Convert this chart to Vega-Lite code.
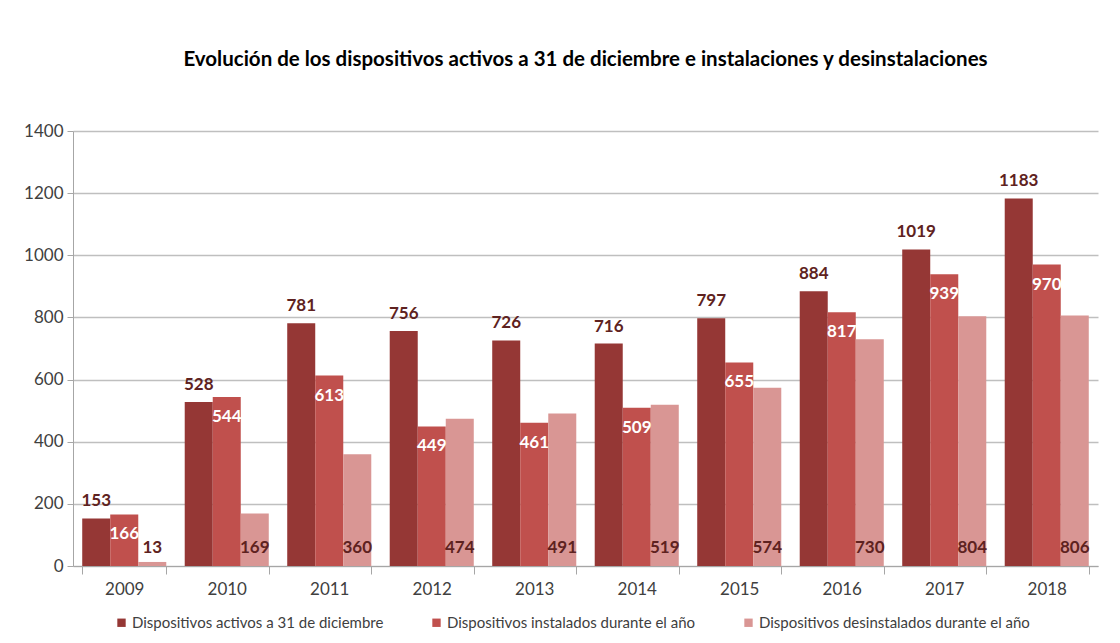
{
  "$schema": "https://vega.github.io/schema/vega-lite/v6.json",
  "width": 1025,
  "height": 435,
  "autosize": {"type": "none"},
  "padding": {"left": 73, "top": 131, "right": 22, "bottom": 77},
  "background": "white",
  "title": {
    "text": "Evolución de los dispositivos activos a 31 de diciembre e instalaciones y desinstalaciones",
    "font": "Lato",
    "fontSize": 20.5,
    "fontWeight": "bold",
    "color": "#000000",
    "anchor": "middle",
    "offset": 52
  },
  "config": {
    "view": {"stroke": null},
    "font": "Lato"
  },
  "data": {
    "values": [
      {"year": "2009", "serie": "Dispositivos activos a 31 de diciembre", "value": 153},
      {"year": "2009", "serie": "Dispositivos instalados durante el año", "value": 166},
      {"year": "2009", "serie": "Dispositivos desinstalados durante el año", "value": 13},
      {"year": "2010", "serie": "Dispositivos activos a 31 de diciembre", "value": 528},
      {"year": "2010", "serie": "Dispositivos instalados durante el año", "value": 544},
      {"year": "2010", "serie": "Dispositivos desinstalados durante el año", "value": 169},
      {"year": "2011", "serie": "Dispositivos activos a 31 de diciembre", "value": 781},
      {"year": "2011", "serie": "Dispositivos instalados durante el año", "value": 613},
      {"year": "2011", "serie": "Dispositivos desinstalados durante el año", "value": 360},
      {"year": "2012", "serie": "Dispositivos activos a 31 de diciembre", "value": 756},
      {"year": "2012", "serie": "Dispositivos instalados durante el año", "value": 449},
      {"year": "2012", "serie": "Dispositivos desinstalados durante el año", "value": 474},
      {"year": "2013", "serie": "Dispositivos activos a 31 de diciembre", "value": 726},
      {"year": "2013", "serie": "Dispositivos instalados durante el año", "value": 461},
      {"year": "2013", "serie": "Dispositivos desinstalados durante el año", "value": 491},
      {"year": "2014", "serie": "Dispositivos activos a 31 de diciembre", "value": 716},
      {"year": "2014", "serie": "Dispositivos instalados durante el año", "value": 509},
      {"year": "2014", "serie": "Dispositivos desinstalados durante el año", "value": 519},
      {"year": "2015", "serie": "Dispositivos activos a 31 de diciembre", "value": 797},
      {"year": "2015", "serie": "Dispositivos instalados durante el año", "value": 655},
      {"year": "2015", "serie": "Dispositivos desinstalados durante el año", "value": 574},
      {"year": "2016", "serie": "Dispositivos activos a 31 de diciembre", "value": 884},
      {"year": "2016", "serie": "Dispositivos instalados durante el año", "value": 817},
      {"year": "2016", "serie": "Dispositivos desinstalados durante el año", "value": 730},
      {"year": "2017", "serie": "Dispositivos activos a 31 de diciembre", "value": 1019},
      {"year": "2017", "serie": "Dispositivos instalados durante el año", "value": 939},
      {"year": "2017", "serie": "Dispositivos desinstalados durante el año", "value": 804},
      {"year": "2018", "serie": "Dispositivos activos a 31 de diciembre", "value": 1183},
      {"year": "2018", "serie": "Dispositivos instalados durante el año", "value": 970},
      {"year": "2018", "serie": "Dispositivos desinstalados durante el año", "value": 806}
    ]
  },
  "encoding": {
    "x": {
      "field": "year",
      "type": "nominal",
      "scale": {"paddingInner": 0.18, "paddingOuter": 0.09},
      "axis": {
        "title": null,
        "labelAngle": 0,
        "labelFont": "Lato",
        "labelFontSize": 17,
        "labelColor": "#404040",
        "labelPadding": 7,
        "tickBand": "extent",
        "tickSize": 8,
        "tickColor": "#a6a6a6",
        "domainColor": "#a6a6a6",
        "grid": false
      }
    },
    "xOffset": {
      "field": "serie",
      "type": "nominal",
      "sort": ["Dispositivos activos a 31 de diciembre", "Dispositivos instalados durante el año", "Dispositivos desinstalados durante el año"],
      "scale": {"paddingInner": 0, "paddingOuter": 0}
    },
    "y": {
      "field": "value",
      "type": "quantitative",
      "scale": {"domain": [0, 1400]},
      "axis": {
        "title": null,
        "values": [0, 200, 400, 600, 800, 1000, 1200, 1400],
        "format": "d",
        "labelFont": "Lato",
        "labelFontSize": 17,
        "labelColor": "#404040",
        "labelPadding": 4,
        "tickSize": 6,
        "tickColor": "#a6a6a6",
        "domainColor": "#a6a6a6",
        "gridColor": "#bfbfbf",
        "gridWidth": 1.5
      }
    }
  },
  "layer": [
    {
      "mark": {"type": "bar"},
      "encoding": {
        "color": {
          "field": "serie",
          "type": "nominal",
          "sort": ["Dispositivos activos a 31 de diciembre", "Dispositivos instalados durante el año", "Dispositivos desinstalados durante el año"],
          "scale": {
            "domain": ["Dispositivos activos a 31 de diciembre", "Dispositivos instalados durante el año", "Dispositivos desinstalados durante el año"],
            "range": ["#953735", "#C0504D", "#D99694"]
          },
          "legend": {
            "title": null,
            "orient": "none",
            "direction": "horizontal",
            "legendX": 41,
            "legendY": 484,
            "symbolType": "square",
            "symbolSize": 70,
            "symbolStrokeWidth": 0,
            "labelFont": "Lato",
            "labelFontSize": 15,
            "labelColor": "#404040",
            "labelOffset": 3,
            "columnPadding": 45,
            "labelLimit": 400
          }
        }
      }
    },
    {
      "transform": [{"filter": "datum.serie === 'Dispositivos activos a 31 de diciembre'"}],
      "mark": {"type": "text", "font": "Lato", "fontSize": 17, "fontWeight": "bold", "color": "#5e2220", "baseline": "middle", "dy": -17},
      "encoding": {"text": {"field": "value", "type": "quantitative"}}
    },
    {
      "transform": [{"filter": "datum.serie === 'Dispositivos instalados durante el año'"}],
      "mark": {"type": "text", "font": "Lato", "fontSize": 17, "fontWeight": "bold", "color": "#ffffff", "baseline": "middle", "dy": 20},
      "encoding": {"text": {"field": "value", "type": "quantitative"}}
    },
    {
      "transform": [{"filter": "datum.serie === 'Dispositivos desinstalados durante el año'"}],
      "mark": {"type": "text", "font": "Lato", "fontSize": 17, "fontWeight": "bold", "color": "#5e2220", "baseline": "middle", "dy": -18},
      "encoding": {
        "y": {"datum": 0, "type": "quantitative"},
        "text": {"field": "value", "type": "quantitative"}
      }
    }
  ]
}
